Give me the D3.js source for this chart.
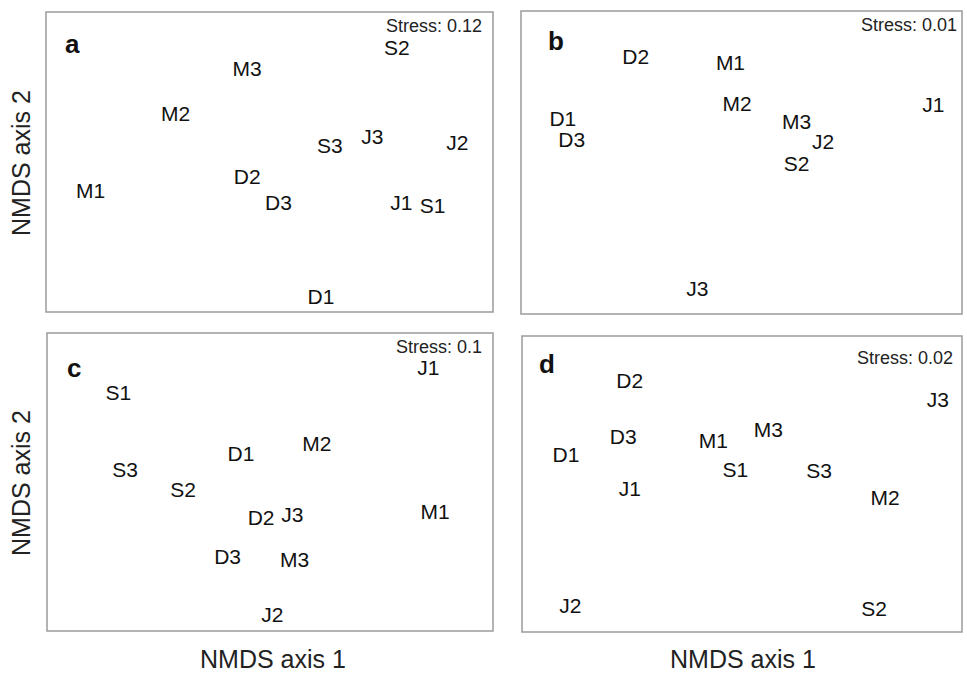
<!DOCTYPE html>
<html>
<head>
<meta charset="utf-8">
<script src="https://cdn.jsdelivr.net/npm/d3@7"></script>
<style>
  body { margin: 0; background: #fff; }
  svg { display: block; font-family: Arial, "Liberation Sans", sans-serif; }
</style>
</head>
<body>
<div id="chart"></div>
<script>
const panelIds = ['a', 'b', 'c', 'd'];
const stressValues = ['0.12', '0.01', '0.1', '0.02'];

const samplesA = ['S2', 'M3', 'M2', 'S3', 'J3', 'J2', 'M1', 'D2', 'D3', 'J1', 'S1', 'D1'];
const axis1A = [0.57, -0.10, -0.42, 0.27, 0.46, 0.84, -0.80, -0.10, 0.04, 0.59, 0.73, 0.23];
const axis2A = [0.76, 0.62, 0.32, 0.11, 0.17, 0.13, -0.19, -0.10, -0.27, -0.27, -0.29, -0.90];

const samplesB = ['D2', 'M1', 'M2', 'J1', 'D1', 'D3', 'M3', 'J2', 'S2', 'J3'];
const axis1B = [-0.48, -0.05, -0.02, 0.87, -0.81, -0.77, 0.25, 0.37, 0.25, -0.20];
const axis2B = [0.70, 0.66, 0.39, 0.38, 0.29, 0.15, 0.27, 0.14, -0.01, -0.83];

const samplesC = ['J1', 'S1', 'M2', 'D1', 'S3', 'S2', 'D2', 'J3', 'M1', 'D3', 'M3', 'J2'];
const axis1C = [0.71, -0.68, 0.21, -0.13, -0.65, -0.39, -0.04, 0.10, 0.74, -0.19, 0.11, 0.01];
const axis2C = [0.77, 0.60, 0.26, 0.19, 0.08, -0.05, -0.24, -0.22, -0.20, -0.50, -0.52, -0.89];

const samplesD = ['D2', 'J3', 'M3', 'D3', 'M1', 'D1', 'S1', 'S3', 'J1', 'M2', 'J2', 'S2'];
const axis1D = [-0.51, 0.89, 0.12, -0.54, -0.13, -0.80, -0.03, 0.35, -0.51, 0.65, -0.78, 0.60];
const axis2D = [0.70, 0.57, 0.37, 0.32, 0.29, 0.20, 0.10, 0.09, -0.03, -0.09, -0.82, -0.84];

const width = 967;
const height = 674;

// panel frames and the little offsets for the letter / stress note
const panels = [
  { id: 'a', names: samplesA, x: axis1A, y: axis2A, box: [46, 12, 493, 312], letter: [19, 41], stress: [11, 14] },
  { id: 'b', names: samplesB, x: axis1B, y: axis2B, box: [521, 11, 962, 314], letter: [27, 39], stress: [5, 14] },
  { id: 'c', names: samplesC, x: axis1C, y: axis2C, box: [47, 333, 493, 631], letter: [20, 44], stress: [11, 14] },
  { id: 'd', names: samplesD, x: axis1D, y: axis2D, box: [522, 336, 962, 632], letter: [17, 37], stress: [9, 22] }
];

const svg = d3.select('#chart')
  .append('svg')
  .attr('width', width)
  .attr('height', height);

svg.append('rect')
  .attr('width', width)
  .attr('height', height)
  .attr('fill', '#fff');

panels.forEach((p, i) => {
  const [x0, y0, x1, y1] = p.box;

  const xScale = d3.scaleLinear().domain([-1, 1]).range([x0, x1]);
  const yScale = d3.scaleLinear().domain([-1, 1]).range([y1, y0]);

  const g = svg.append('g');

  // frame
  g.append('rect')
    .attr('x', x0)
    .attr('y', y0)
    .attr('width', x1 - x0)
    .attr('height', y1 - y0)
    .attr('fill', 'none')
    .attr('stroke', '#9a9a9a')
    .attr('stroke-width', 1.5);

  // panel letter
  g.append('text')
    .attr('x', x0 + p.letter[0])
    .attr('y', y0 + p.letter[1])
    .attr('font-size', 26)
    .attr('font-weight', 'bold')
    .attr('fill', '#111')
    .text(panelIds[i]);

  // stress
  g.append('text')
    .attr('x', x1 - p.stress[0])
    .attr('y', y0 + p.stress[1])
    .attr('dy', '0.35em')
    .attr('text-anchor', 'end')
    .attr('font-size', 18)
    .attr('fill', '#222')
    .text(`Stress: ${stressValues[i]}`);

  // sample labels in place of points
  const data = p.names.map((name, k) => ({ name, x: p.x[k], y: p.y[k] }));

  g.selectAll('text.sample')
    .data(data)
    .join('text')
    .attr('class', 'sample')
    .attr('x', d => xScale(d.x))
    .attr('y', d => yScale(d.y))
    .attr('dy', '0.35em')
    .attr('text-anchor', 'middle')
    .attr('font-size', 21)
    .attr('fill', '#111')
    .text(d => d.name);
});

// axis titles
[163, 483].forEach(cy => {
  svg.append('text')
    .attr('transform', `translate(21, ${cy}) rotate(-90)`)
    .attr('dy', '0.35em')
    .attr('text-anchor', 'middle')
    .attr('font-size', 25)
    .attr('fill', '#222')
    .text('NMDS axis 2');
});

[273, 743].forEach(cx => {
  svg.append('text')
    .attr('x', cx)
    .attr('y', 659)
    .attr('dy', '0.35em')
    .attr('text-anchor', 'middle')
    .attr('font-size', 25)
    .attr('fill', '#222')
    .text('NMDS axis 1');
});
</script>
</body>
</html>
